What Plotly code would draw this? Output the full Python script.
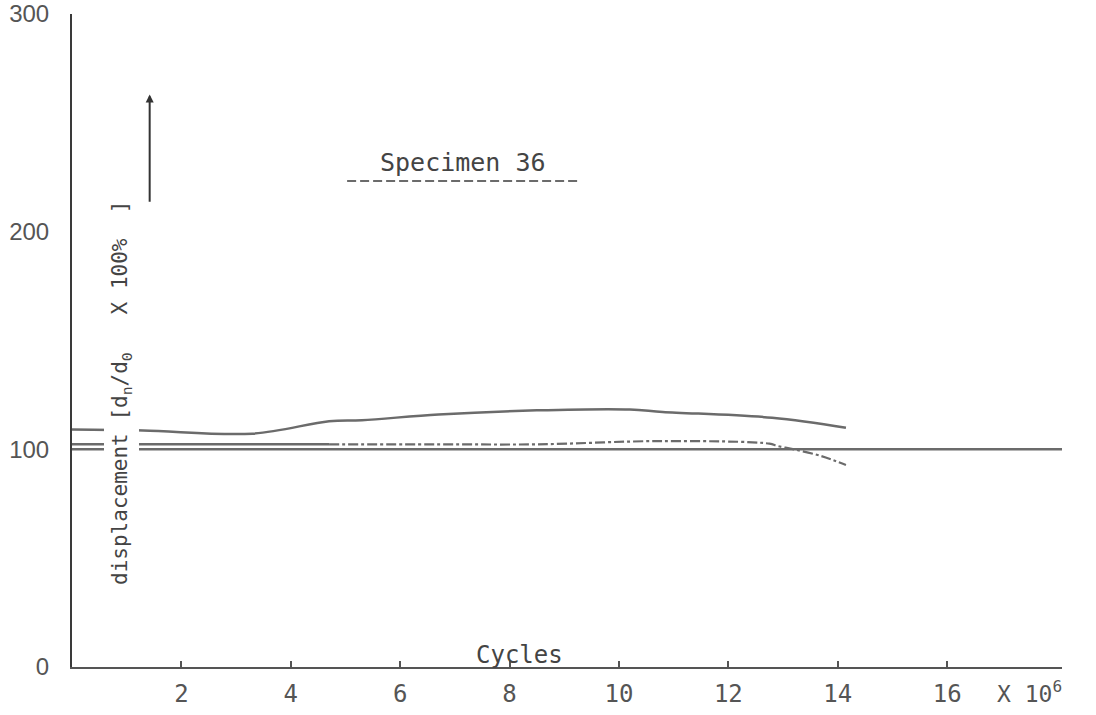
import plotly.graph_objects as go

# ---- data ----
x_ticks = [2, 4, 6, 8, 10, 12, 14, 16]
y_ticks = [0, 100, 200, 300]

x_base = [0, 18.1]
y_base = [100, 100]

x_upper = [0, 1.3, 3.3, 4.7, 5.3, 6.7, 8.5, 10.2, 10.8, 12.8, 14.15]
y_upper = [109.1, 108.7, 107.2, 112.9, 113.4, 116.0, 117.9, 118.3, 117.2, 114.5, 109.9]

x_mid_solid = [0, 1.3, 3.3, 4.7]
y_mid_solid = [102.3, 102.3, 102.3, 102.3]

x_mid_dash = [4.7, 6.7, 8.5, 10.8, 12.75, 12.9, 13.2, 13.7, 14.15]
y_mid_dash = [102.3, 102.3, 102.3, 103.8, 102.6, 101.5, 100.0, 96.9, 92.8]

x_title_line = [5.03, 9.24]
y_title_line = [223.3, 223.3]

LINE = "#6b6b6b"
AX = "#3a3a3a"
MONO = "DejaVu Sans Mono"

fig = go.Figure()
fig.add_trace(go.Scatter(x=x_base, y=y_base, mode="lines",
                         line=dict(color=LINE, width=2.5), hoverinfo="skip"))
fig.add_trace(go.Scatter(x=x_upper, y=y_upper, mode="lines", line_shape="spline",
                         line=dict(color=LINE, width=2.5), hoverinfo="skip"))
fig.add_trace(go.Scatter(x=x_mid_solid, y=y_mid_solid, mode="lines",
                         line=dict(color=LINE, width=2.5), hoverinfo="skip"))
fig.add_trace(go.Scatter(x=x_mid_dash, y=y_mid_dash, mode="lines", line_shape="spline",
                         line=dict(color=LINE, width=2.2, dash="10px,3px,3px,3px"),
                         hoverinfo="skip"))
fig.add_trace(go.Scatter(x=x_title_line, y=y_title_line, mode="lines",
                         line=dict(color=LINE, width=2, dash="9px,4px"), hoverinfo="skip"))

annotations = [
    dict(x=7.14, y=232, text="Specimen 36", showarrow=False,
         font=dict(family=MONO, size=25, color="#444")),
    dict(x=8.18, y=5.5, text="Cycles", showarrow=False, yanchor="middle",
         font=dict(family=MONO, size=24, color="#444")),
    dict(x=17.5, xref="x", y=-0.038, yref="paper", text="X 10<sup>6</sup>",
         showarrow=False, yanchor="middle",
         font=dict(family=MONO, size=23, color="#555")),
    dict(x=0.90, y=126, textangle=-90,
         text="displacement [d<sub>n</sub>/d<sub>0</sub>   X 100%  ]",
         showarrow=False, bgcolor="white", borderpad=4,
         font=dict(family=MONO, size=21, color="#444")),
    dict(x=1.42, y=263, ax=1.42, ay=213, axref="x", ayref="y", xref="x", yref="y",
         text="", showarrow=True, arrowhead=2, arrowsize=0.8, arrowwidth=2,
         arrowcolor="#333"),
]

fig.update_layout(
    width=1096, height=715,
    margin=dict(l=72, r=34, t=14, b=48, autoexpand=False),
    paper_bgcolor="white", plot_bgcolor="white",
    showlegend=False,
    annotations=annotations,
    xaxis=dict(range=[0, 18.1], tickvals=x_ticks, ticktext=[str(v) for v in x_ticks],
               showgrid=False, zeroline=False, showline=True, linecolor="#555",
               linewidth=1.8, ticks="inside", ticklen=6, tickcolor="#555", tickwidth=1.5,
               tickfont=dict(family=MONO, size=24, color="#555"),
               ticklabelstandoff=4, automargin=False),
    yaxis=dict(range=[0, 300], tickvals=y_ticks, ticktext=[str(v) for v in y_ticks],
               showgrid=False, zeroline=False, showline=True, linecolor=AX,
               linewidth=2, ticks="", tickfont=dict(family="Liberation Sans", size=24,
                                                    color="#555"),
               ticklabeloverflow="allow", ticklabelstandoff=16, automargin=False),
)

fig.write_html("out.html")
